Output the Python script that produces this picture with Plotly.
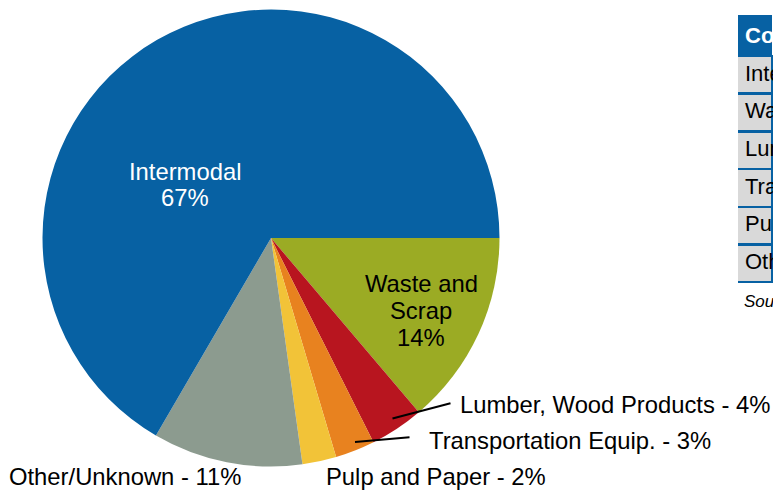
import plotly.graph_objects as go

# ---- data ----
categories = ["Waste and Scrap", "Lumber, Wood Products", "Transportation Equip.",
              "Pulp and Paper", "Other/Unknown", "Intermodal"]
shares = [13.8, 3.8, 2.8, 2.4, 10.6, 66.6]
colors = ["#9bab24", "#b8151f", "#e8821f", "#f2c338", "#8c9b8f", "#0761a3"]

table_header = ["Commodity"]
table_rows = ["Intermodal", "Waste and Scrap", "Lumber, Wood Products",
              "Transportation Equip.", "Pulp and Paper", "Other/Unknown"]
source_note = "Source: "

W, H = 773, 492
FONT = "Liberation Sans, Arial, sans-serif"
BLUE = "#0761a3"
LABEL_SIZE = 23.8


def px(x):
    return x / W


def py(y):
    return 1 - y / H


def nobreak(s):
    return s.replace(" ", "\u00a0")


pct = {c: f"{round(v)}%" for c, v in zip(categories, shares)}

fig = go.Figure()

fig.add_trace(go.Pie(
    labels=categories,
    values=shares,
    sort=False,
    direction="clockwise",
    rotation=90,
    marker=dict(colors=colors, line=dict(width=0)),
    textinfo="none",
    hoverinfo="label+percent",
    showlegend=False,
    domain=dict(x=[px(42.5), px(499.5)], y=[py(466.5), py(9.5)]),
))

fig.add_trace(go.Table(
    domain=dict(x=[px(737), 1], y=[py(340), py(15)]),
    columnwidth=[1],
    header=dict(values=[f"<b>{nobreak(h)}</b>" for h in table_header],
                fill_color=BLUE, line=dict(color=BLUE, width=0),
                font=dict(family=FONT, size=22, color="white"),
                align="left", height=37),
    cells=dict(values=[[nobreak(r) for r in table_rows]],
               fill_color="#d9d9d9", line=dict(color=BLUE, width=2.5),
               font=dict(family=FONT, size=22, color="black"),
               align="left", height=37.7),
))

annotations = []


def label(text, x, y, color="black", anchor="center"):
    annotations.append(dict(text=text, x=px(x), y=py(y), xref="paper", yref="paper",
                            showarrow=False, xanchor=anchor, yanchor="middle",
                            font=dict(family=FONT, size=LABEL_SIZE, color=color)))


# inside labels
label("Intermodal", 185, 171, "white")
label(pct["Intermodal"], 185, 197, "white")
label("Waste and", 421, 283)
label("Scrap", 421, 310)
label(pct["Waste and Scrap"], 421, 337)

# outside labels
label(f"Lumber, Wood Products - {pct['Lumber, Wood Products']}", 458, 404, anchor="left")
label(f"Transportation Equip. - {pct['Transportation Equip.']}", 427, 440, anchor="left")
label(f"Pulp and Paper - {pct['Pulp and Paper']}", 324, 476, anchor="left")
label(f"Other/Unknown - {pct['Other/Unknown']}", 7, 476, anchor="left")

annotations.append(dict(text=f"<i>{source_note}</i>", x=px(742), y=py(301), xref="paper",
                        yref="paper", showarrow=False, xanchor="left", yanchor="middle",
                        font=dict(family=FONT, size=17, color="black")))

shapes = [
    dict(type="line", xref="paper", yref="paper", x0=px(392.5), y0=py(418.5),
         x1=px(450.5), y1=py(403.3), line=dict(color="black", width=2)),
    dict(type="line", xref="paper", yref="paper", x0=px(355), y0=py(442),
         x1=px(409.5), y1=py(437.3), line=dict(color="black", width=2)),
    # mask the table's left border so rows show only their blue bottom rules
    dict(type="rect", xref="paper", yref="paper", layer="above",
         x0=px(733), x1=px(738), y0=py(290), y1=py(12),
         fillcolor="white", line=dict(width=0)),
]

fig.update_layout(
    width=W, height=H,
    margin=dict(l=0, r=0, t=0, b=0),
    paper_bgcolor="white",
    plot_bgcolor="white",
    annotations=annotations,
    shapes=shapes,
    font=dict(family=FONT),
)

fig.write_html("out.html",
               config={"displayModeBar": False},
               post_script="document.body.style.margin='0';"
                           "document.body.style.overflow='hidden';")
